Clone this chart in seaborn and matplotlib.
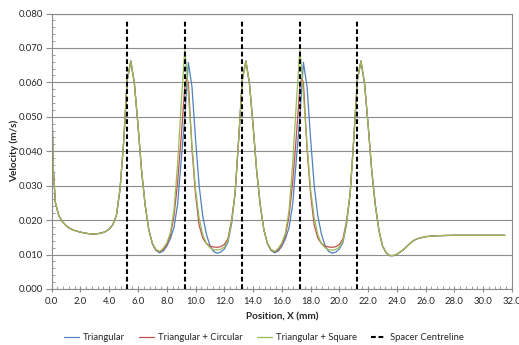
import numpy as np
import pandas as pd
import matplotlib
matplotlib.use("Agg")
import matplotlib.pyplot as plt
from matplotlib.lines import Line2D
from matplotlib.ticker import MultipleLocator, FormatStrFormatter
import seaborn as sns

# Axial position along the channel (mm)
position_mm = [
    0.0, 0.1, 0.25, 0.5, 0.75, 1.0, 1.25, 1.5, 1.75, 2.0, 2.25, 2.5, 2.75, 3.0,
    3.25, 3.5, 3.75, 4.0, 4.25, 4.5, 4.75, 5.0, 5.25, 5.5, 5.75, 6.0, 6.25, 6.5,
    6.75, 7.0, 7.25, 7.5, 7.75, 8.0, 8.25, 8.5, 8.75, 9.0, 9.25, 9.375, 9.5,
    9.75, 10.0, 10.25, 10.5, 10.75, 11.0, 11.25, 11.5, 11.75, 12.0, 12.25, 12.5,
    12.75, 13.0, 13.25, 13.5, 13.75, 14.0, 14.25, 14.5, 14.75, 15.0, 15.25, 15.5,
    15.75, 16.0, 16.25, 16.5, 16.75, 17.0, 17.25, 17.375, 17.5, 17.75, 18.0,
    18.25, 18.5, 18.75, 19.0, 19.25, 19.5, 19.75, 20.0, 20.25, 20.5, 20.75, 21.0,
    21.25, 21.5, 21.75, 22.0, 22.25, 22.5, 22.75, 23.0, 23.25, 23.5, 23.75, 24.0,
    24.25, 24.5, 24.75, 25.0, 25.25, 25.5, 26.0, 26.5, 27.0, 28.0, 29.0, 30.0,
    31.5,
]

# Velocity (m/s) for each spacer geometry
triangular = [
    0.0567, 0.0360, 0.0252, 0.0212, 0.0195, 0.0184, 0.0176, 0.0171, 0.0168, 0.0165,
    0.0163, 0.0161, 0.0160, 0.0160, 0.0161, 0.0163, 0.0167, 0.0174, 0.0187, 0.0214,
    0.0290, 0.0425, 0.0607, 0.0662, 0.0596, 0.0475, 0.0343, 0.0243, 0.0172,
    0.0131, 0.0112, 0.0105, 0.0110, 0.0124, 0.0146, 0.0178, 0.0245, 0.0372, 0.0498,
    0.0578, 0.0658, 0.0588, 0.0435, 0.0300, 0.0212, 0.0160, 0.0126, 0.0109, 0.0104,
    0.0107, 0.0116, 0.0136, 0.0188, 0.0278, 0.0436, 0.0607, 0.0662, 0.0596, 0.0475,
    0.0343, 0.0243, 0.0172, 0.0131, 0.0112, 0.0105,
    0.0110, 0.0124, 0.0146, 0.0178, 0.0245, 0.0372, 0.0498,
    0.0578, 0.0658, 0.0588, 0.0435, 0.0300, 0.0212, 0.0160, 0.0126, 0.0109, 0.0104,
    0.0107, 0.0116, 0.0136, 0.0188, 0.0278, 0.0436, 0.0607, 0.0662, 0.0596, 0.0475,
    0.0343, 0.0243, 0.0170, 0.0125, 0.0105, 0.0097, 0.0097, 0.0101, 0.0108, 0.0116,
    0.0126, 0.0136, 0.0143, 0.0147, 0.0152, 0.0154, 0.0155, 0.0156, 0.0156, 0.0156,
    0.0156,
]

tri_circular = [
    0.0567, 0.0360, 0.0252, 0.0212, 0.0195, 0.0184, 0.0176, 0.0171, 0.0168, 0.0165,
    0.0163, 0.0161, 0.0160, 0.0160, 0.0161, 0.0163, 0.0167, 0.0174, 0.0187, 0.0214,
    0.0290, 0.0425, 0.0607, 0.0662, 0.0596, 0.0475, 0.0343, 0.0243, 0.0172,
    0.0132, 0.0113, 0.0108, 0.0114, 0.0129, 0.0155, 0.0212, 0.0308, 0.0440, 0.0585,
    0.0612, 0.0600, 0.0408, 0.0275, 0.0185, 0.0148, 0.0132, 0.0125, 0.0122, 0.0121,
    0.0123, 0.0129, 0.0146, 0.0198, 0.0278, 0.0436, 0.0607, 0.0662, 0.0596, 0.0475,
    0.0343, 0.0243, 0.0172, 0.0132, 0.0113, 0.0108,
    0.0114, 0.0129, 0.0155, 0.0212, 0.0308, 0.0440, 0.0585,
    0.0612, 0.0600, 0.0408, 0.0275, 0.0185, 0.0148, 0.0132, 0.0125, 0.0122, 0.0121,
    0.0123, 0.0129, 0.0146, 0.0198, 0.0278, 0.0436, 0.0607, 0.0662, 0.0596, 0.0475,
    0.0343, 0.0243, 0.0170, 0.0125, 0.0105, 0.0097, 0.0097, 0.0101, 0.0108, 0.0116,
    0.0126, 0.0136, 0.0143, 0.0147, 0.0152, 0.0154, 0.0155, 0.0156, 0.0156, 0.0156,
    0.0156,
]

tri_square = [
    0.0567, 0.0360, 0.0252, 0.0212, 0.0195, 0.0184, 0.0176, 0.0171, 0.0168, 0.0165,
    0.0163, 0.0161, 0.0160, 0.0160, 0.0161, 0.0163, 0.0167, 0.0174, 0.0187, 0.0214,
    0.0290, 0.0425, 0.0607, 0.0662, 0.0596, 0.0475, 0.0343, 0.0243, 0.0172,
    0.0133, 0.0115, 0.0109, 0.0118, 0.0134, 0.0163, 0.0228, 0.0362, 0.0535, 0.0694,
    0.0640, 0.0565, 0.0420, 0.0288, 0.0206, 0.0158, 0.0132, 0.0120, 0.0114, 0.0113,
    0.0115, 0.0122, 0.0140, 0.0193, 0.0278, 0.0436, 0.0607, 0.0662, 0.0596, 0.0475,
    0.0343, 0.0243, 0.0172, 0.0133, 0.0115, 0.0109,
    0.0118, 0.0134, 0.0163, 0.0228, 0.0362, 0.0535, 0.0694,
    0.0640, 0.0565, 0.0420, 0.0288, 0.0206, 0.0158, 0.0132, 0.0120, 0.0114, 0.0113,
    0.0115, 0.0122, 0.0140, 0.0193, 0.0278, 0.0436, 0.0607, 0.0662, 0.0596, 0.0475,
    0.0343, 0.0243, 0.0170, 0.0125, 0.0105, 0.0097, 0.0097, 0.0101, 0.0108, 0.0116,
    0.0126, 0.0136, 0.0143, 0.0147, 0.0152, 0.0154, 0.0155, 0.0156, 0.0156, 0.0156,
    0.0156,
]

# Spacer centreline positions (mm) and the height of the marker lines
spacer_centres = [5.25, 9.25, 13.25, 17.25, 21.25]
spacer_top = 0.078

series_names = ["Triangular", "Triangular + Circular", "Triangular + Square"]
series_colors = ["#4F81BD", "#C0504D", "#9BBB59"]

frames = []
for name, vals in zip(series_names, [triangular, tri_circular, tri_square]):
    frames.append(pd.DataFrame({"Position": position_mm, "Velocity": vals,
                                "Geometry": name}))
df = pd.concat(frames, ignore_index=True)

sns.set_theme(style="white")
plt.rcParams["font.family"] = ["Lato", "DejaVu Sans"]

W, H = 519, 345
fig = plt.figure(figsize=(W / 100, H / 100), dpi=100)
ax = fig.add_axes([51.7 / W, 1 - 289 / H, (512 - 51.7) / W, (289 - 13.5) / H])

grid_col = "#8C8C8C"
ax.set_axisbelow(True)
ax.yaxis.grid(True, color=grid_col, linewidth=0.8)
ax.xaxis.grid(False)

sns.lineplot(data=df, x="Position", y="Velocity", hue="Geometry",
             palette=dict(zip(series_names, series_colors)),
             estimator=None, sort=False, linewidth=0.9, legend=False, ax=ax)

ax.vlines(spacer_centres, 0, spacer_top, colors="black", linewidth=1.5,
          linestyles=(0, (2.3, 1.3)), zorder=5)

ax.set_xlim(0, 32)
ax.set_ylim(0, 0.08)
ax.xaxis.set_major_locator(MultipleLocator(2))
ax.xaxis.set_minor_locator(MultipleLocator(0.4))
ax.yaxis.set_major_locator(MultipleLocator(0.01))
ax.yaxis.set_minor_locator(MultipleLocator(0.002))
ax.xaxis.set_major_formatter(FormatStrFormatter("%.1f"))
ax.yaxis.set_major_formatter(FormatStrFormatter("%.3f"))

for sp in ax.spines.values():
    sp.set_color(grid_col)
    sp.set_linewidth(0.8)

tick_txt = "#262626"
ax.tick_params(axis="y", which="major", direction="out", length=4, width=0.8,
               color=grid_col, labelsize=6.8, labelcolor=tick_txt, pad=2,
               left=True)
ax.tick_params(axis="y", which="minor", direction="in", length=2.5, width=0.6,
               color=grid_col, left=True)
ax.tick_params(axis="x", which="major", direction="inout", length=5, width=0.8,
               color=grid_col, labelsize=6.8, labelcolor=tick_txt, pad=3,
               bottom=True)
ax.tick_params(axis="x", which="minor", direction="in", length=2.5, width=0.6,
               color=grid_col, bottom=True)

ax.set_xlabel("Position, X (mm)", fontsize=7.2, fontweight="bold",
              color=tick_txt, labelpad=5)
ax.set_ylabel("Velocity (m/s)", fontsize=7.2, fontweight="bold",
              color=tick_txt, labelpad=0)

handles = [Line2D([], [], color=c, linewidth=0.9) for c in series_colors]
handles.append(Line2D([], [], color="black", linewidth=1.5,
                      linestyle=(0, (2.3, 1.3))))
labels = series_names + ["Spacer Centreline"]
fig.legend(handles, labels, loc="center", bbox_to_anchor=(264 / W, 1 - 338 / H),
           ncol=4, frameon=False, fontsize=6.8, handlelength=1.6,
           handletextpad=0.4, columnspacing=1.5, labelcolor=tick_txt)

fig.savefig("out.png", dpi=100)
